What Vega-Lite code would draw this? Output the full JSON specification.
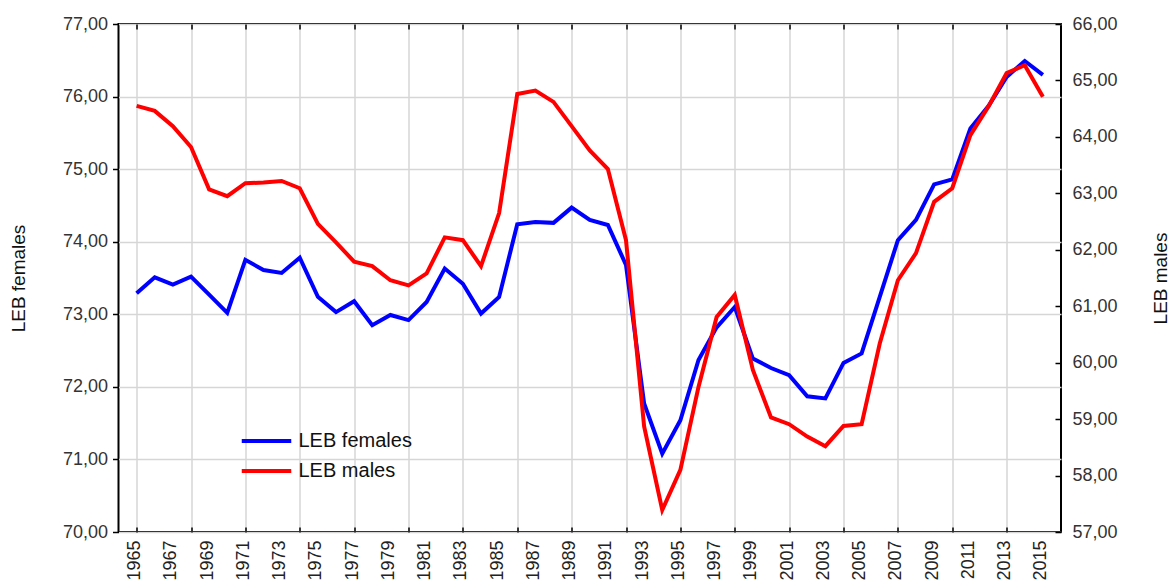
{
  "$schema": "https://vega.github.io/schema/vega-lite/v6.json",
  "width": 942.5,
  "height": 508,
  "autosize": {"type": "none"},
  "padding": {"left": 118.5, "top": 24, "right": 115, "bottom": 53},
  "config": {
    "view": {"stroke": "#000", "strokeWidth": 2},
    "font": "Liberation Sans",
    "axis": {
      "labelFont": "Liberation Sans",
      "titleFont": "Liberation Sans",
      "labelColor": "#333",
      "titleColor": "#111",
      "titleFontWeight": "normal",
      "domain": false,
      "gridColor": "#d6d6d6",
      "gridWidth": 1.5,
      "tickColor": "#000",
      "tickWidth": 1.5
    }
  },
  "datasets": {
    "leb": [
      {"year": 1965, "female": 73.29, "male": 64.55},
      {"year": 1966, "female": 73.51, "male": 64.46},
      {"year": 1967, "female": 73.41, "male": 64.19},
      {"year": 1968, "female": 73.52, "male": 63.82},
      {"year": 1969, "female": 73.27, "male": 63.07},
      {"year": 1970, "female": 73.02, "male": 62.95},
      {"year": 1971, "female": 73.75, "male": 63.18},
      {"year": 1972, "female": 73.61, "male": 63.19},
      {"year": 1973, "female": 73.57, "male": 63.22},
      {"year": 1974, "female": 73.78, "male": 63.09},
      {"year": 1975, "female": 73.24, "male": 62.46},
      {"year": 1976, "female": 73.03, "male": 62.13},
      {"year": 1977, "female": 73.18, "male": 61.79},
      {"year": 1978, "female": 72.85, "male": 61.71},
      {"year": 1979, "female": 72.99, "male": 61.46},
      {"year": 1980, "female": 72.92, "male": 61.37},
      {"year": 1981, "female": 73.17, "male": 61.58},
      {"year": 1982, "female": 73.63, "male": 62.22},
      {"year": 1983, "female": 73.42, "male": 62.17},
      {"year": 1984, "female": 73.01, "male": 61.71},
      {"year": 1985, "female": 73.24, "male": 62.65},
      {"year": 1986, "female": 74.24, "male": 64.76},
      {"year": 1987, "female": 74.27, "male": 64.82},
      {"year": 1988, "female": 74.26, "male": 64.62},
      {"year": 1989, "female": 74.47, "male": 64.19},
      {"year": 1990, "female": 74.30, "male": 63.76},
      {"year": 1991, "female": 74.23, "male": 63.43},
      {"year": 1992, "female": 73.68, "male": 62.17},
      {"year": 1993, "female": 71.77, "male": 58.87},
      {"year": 1994, "female": 71.08, "male": 57.39},
      {"year": 1995, "female": 71.54, "male": 58.10},
      {"year": 1996, "female": 72.37, "male": 59.57},
      {"year": 1997, "female": 72.82, "male": 60.81},
      {"year": 1998, "female": 73.10, "male": 61.20},
      {"year": 1999, "female": 72.39, "male": 59.87},
      {"year": 2000, "female": 72.26, "male": 59.03},
      {"year": 2001, "female": 72.16, "male": 58.91},
      {"year": 2002, "female": 71.87, "male": 58.69},
      {"year": 2003, "female": 71.84, "male": 58.52},
      {"year": 2004, "female": 72.33, "male": 58.88},
      {"year": 2005, "female": 72.46, "male": 58.91},
      {"year": 2006, "female": 73.24, "male": 60.34},
      {"year": 2007, "female": 74.02, "male": 61.46},
      {"year": 2008, "female": 74.30, "male": 61.94},
      {"year": 2009, "female": 74.79, "male": 62.85},
      {"year": 2010, "female": 74.86, "male": 63.09},
      {"year": 2011, "female": 75.56, "male": 64.03},
      {"year": 2012, "female": 75.87, "male": 64.54},
      {"year": 2013, "female": 76.27, "male": 65.13},
      {"year": 2014, "female": 76.49, "male": 65.27},
      {"year": 2015, "female": 76.30, "male": 64.71}
    ]
  },
  "data": {"name": "leb"},
  "layer": [
    {
      "mark": {"type": "line", "opacity": 0},
      "encoding": {
        "x": {
          "field": "year", "type": "quantitative",
          "scale": {"domain": [1964, 2016], "nice": false, "zero": false},
          "axis": {
            "orient": "bottom",
            "values": [1965, 1968, 1971, 1974, 1977, 1980, 1983, 1986, 1989, 1992, 1995, 1998, 2001, 2004, 2007, 2010, 2013],
            "grid": true, "labels": false, "ticks": true, "tickSize": -5, "title": null
          }
        },
        "y": {
          "field": "female", "type": "quantitative",
          "scale": {"domain": [70, 77], "nice": false, "zero": false},
          "axis": null
        }
      }
    },
    {
      "mark": {"type": "line", "opacity": 0},
      "encoding": {
        "x": {
          "field": "year", "type": "quantitative",
          "axis": {
            "orient": "top",
            "values": [1965, 1968, 1971, 1974, 1977, 1980, 1983, 1986, 1989, 1992, 1995, 1998, 2001, 2004, 2007, 2010, 2013],
            "grid": false, "labels": false, "ticks": true, "tickSize": -5, "title": null
          }
        },
        "y": {
          "field": "female", "type": "quantitative",
          "scale": {"domain": [70, 77], "nice": false, "zero": false},
          "axis": null
        }
      }
    },
    {
      "mark": {"type": "line", "strokeWidth": 4},
      "encoding": {
        "x": {
          "field": "year", "type": "quantitative",
          "axis": {
            "orient": "bottom",
            "values": [1965, 1967, 1969, 1971, 1973, 1975, 1977, 1979, 1981, 1983, 1985, 1987, 1989, 1991, 1993, 1995, 1997, 1999, 2001, 2003, 2005, 2007, 2009, 2011, 2013, 2015],
            "grid": false, "ticks": false, "format": "d",
            "labelAngle": -90, "labelAlign": "right", "labelBaseline": "middle",
            "labelPadding": 8, "labelFontSize": 18, "labelOverlap": false, "labelFlush": false,
            "labelOffset": -2, "labelColor": "#222",
            "title": null
          }
        },
        "y": {
          "field": "female", "type": "quantitative",
          "scale": {"domain": [70, 77], "nice": false, "zero": false},
          "axis": {
            "orient": "left",
            "values": [70, 71, 72, 73, 74, 75, 76, 77],
            "grid": true, "tickSize": 6, "labelPadding": 5, "labelFontSize": 18,
            "labelFlush": false, "labelOverlap": false,
            "labelExpr": "replace(format(datum.value, '.2f'), '.', ',')",
            "title": "LEB females", "titleFontSize": 19, "titleAngle": 270,
            "titleX": -100.5, "titleY": 254, "titleBaseline": "middle", "titleAlign": "center"
          }
        },
        "color": {
          "datum": "LEB females", "type": "nominal",
          "scale": {"domain": ["LEB females", "LEB males"], "range": ["#0000ff", "#ff0000"]},
          "legend": {
            "orient": "none", "legendX": 131, "legendY": 400, "title": null,
            "symbolType": "M-1.65,0H1.65", "symbolSize": 900, "symbolStrokeWidth": 4,
            "labelFontSize": 20, "labelFont": "Liberation Sans", "labelColor": "#111",
            "labelOffset": 15, "rowPadding": 3, "padding": 0, "offset": 0
          }
        }
      }
    },
    {
      "mark": {"type": "line", "strokeWidth": 4},
      "encoding": {
        "x": {"field": "year", "type": "quantitative", "axis": null},
        "y": {
          "field": "male", "type": "quantitative",
          "scale": {"domain": [57, 66], "nice": false, "zero": false},
          "axis": {
            "orient": "right",
            "values": [57, 58, 59, 60, 61, 62, 63, 64, 65, 66],
            "grid": false, "tickSize": -6, "labelPadding": 17, "labelFontSize": 18,
            "labelFlush": false, "labelOverlap": false,
            "labelExpr": "replace(format(datum.value, '.2f'), '.', ',')",
            "title": "LEB males", "titleFontSize": 19, "titleAngle": 270,
            "titleX": 99, "titleY": 254, "titleBaseline": "middle", "titleAlign": "center"
          }
        },
        "color": {"datum": "LEB males", "type": "nominal"}
      }
    }
  ],
  "resolve": {
    "scale": {"y": "independent"},
    "axis": {"x": "independent", "y": "independent"}
  }
}
